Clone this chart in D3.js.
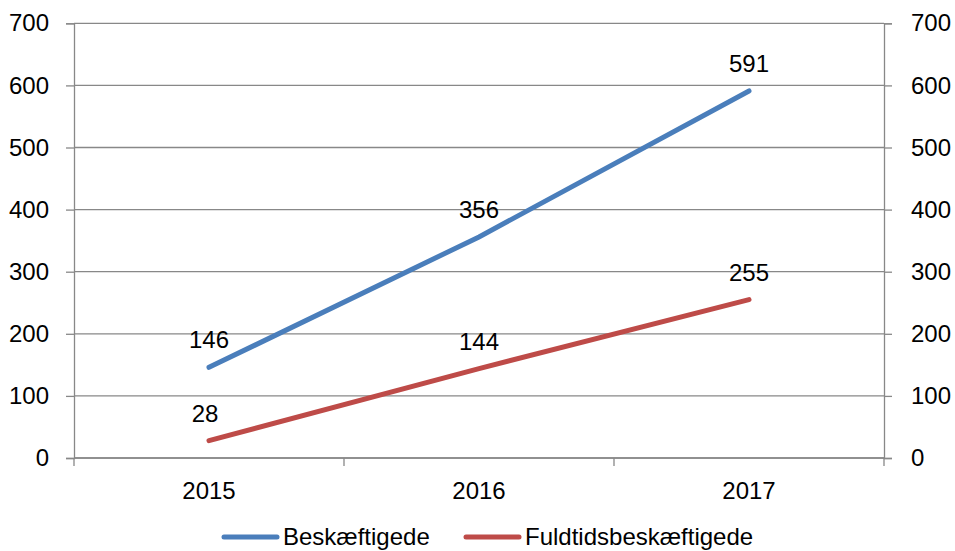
<!DOCTYPE html>
<html><head><meta charset="utf-8">
<script src="https://cdn.jsdelivr.net/npm/d3@7/dist/d3.min.js"></script>
<style>body{margin:0;background:#fff}svg{display:block}text{font-family:"Liberation Sans",Arial,sans-serif;fill:#000}</style>
</head><body><svg id="c" width="955" height="551"></svg>
<script>
const categories = ["2015","2016","2017"];
const beskaeftigede = [146, 356, 591];
const fuldtids = [28, 144, 255];
const seriesNames = ["Beskæftigede","Fuldtidsbeskæftigede"];
const yTicks = [0,100,200,300,400,500,600,700];

const svg = d3.select("#c");
const L = 74, R = 884, T = 23.3, B = 458;
const fs = 24;
const x = d3.scaleBand().domain(categories).range([L, R]);
const y = d3.scaleLinear().domain([0, 700]).range([B, T]);
const grey = "#888888";

svg.append("g").selectAll("line").data(yTicks).join("line")
  .attr("x1", L).attr("x2", R).attr("y1", d=>y(d)).attr("y2", d=>y(d))
  .attr("stroke", grey).attr("stroke-width", 1.3);

const ga = svg.append("g").attr("transform", `translate(${L},0)`)
  .call(d3.axisLeft(y).tickValues(yTicks).tickSize(8).tickPadding(17));
const gb = svg.append("g").attr("transform", `translate(${R},0)`)
  .call(d3.axisRight(y).tickValues(yTicks).tickSize(8).tickPadding(19));
const gx = svg.append("g").attr("transform", `translate(0,${B})`)
  .call(d3.axisBottom(x).tickSize(0).tickPadding(24));
const bounds = categories.map(c=>x(c)).concat([R]);
svg.append("g").selectAll("line").data(bounds).join("line")
  .attr("x1", d=>d).attr("x2", d=>d).attr("y1", B).attr("y2", B+8)
  .attr("stroke", grey).attr("stroke-width", 1.3);
[ga,gb,gx].forEach(g=>{
  g.select(".domain").attr("stroke", grey).attr("stroke-width", 1.3);
  g.selectAll(".tick line").attr("stroke", grey).attr("stroke-width", 1.3);
  g.selectAll("text").style("font-size", fs+"px").style("font-family", '"Liberation Sans",Arial,sans-serif').attr("fill","#000");
});
gb.selectAll("text").attr("text-anchor","start");
gx.select(".domain").attr("d", `M${L},0H${R}`);

const cx = d => x(d) + x.bandwidth()/2;
const series = [
  {name: seriesNames[0], values: beskaeftigede, color: "#4a7ebb"},
  {name: seriesNames[1], values: fuldtids, color: "#be4b48"}
];
const line = d3.line().x((d,i)=>cx(categories[i])).y(d=>y(d));
series.forEach(s=>{
  svg.append("path").attr("d", line(s.values)).attr("fill","none")
    .attr("stroke", s.color).attr("stroke-width", 5).attr("stroke-linecap","round");
  svg.append("g").selectAll("text").data(s.values).join("text")
    .attr("x", (d,i)=>cx(categories[i]) - (d<100?4:0))
    .attr("y", d=>y(d) - 19)
    .attr("text-anchor","middle").style("font-size", fs+"px").text(d=>d);
});

const legend = [{x:224, s:series[0]},{x:466, s:series[1]}];
legend.forEach(l=>{
  svg.append("line").attr("x1", l.x).attr("x2", l.x+53).attr("y1", 537).attr("y2", 537)
    .attr("stroke", l.s.color).attr("stroke-width", 5).attr("stroke-linecap","round");
  svg.append("text").attr("x", l.x+59).attr("y", 545).style("font-size", fs+"px").text(l.s.name);
});
</script></body></html>
